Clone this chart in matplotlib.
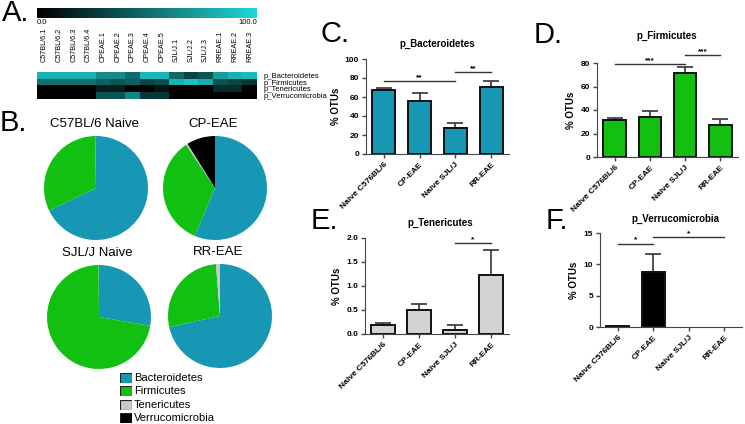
import numpy as np
import matplotlib
matplotlib.use("Agg")
import matplotlib.pyplot as plt
from matplotlib.colors import LinearSegmentedColormap

plt.rcParams["font.family"] = ["Liberation Sans", "DejaVu Sans"]

# grupos e filos
grupos = ["Naive C576BL/6", "CP-EAE", "Naive SJL/J", "RR-EAE"]
titulos_pizza = ["C57BL/6 Naive", "CP-EAE", "SJL/J Naive", "RR-EAE"]
filos = ["Bacteroidetes", "Firmicutes", "Tenericutes", "Verrucomicrobia"]
cores = ["#1797b4", "#11c011", "#c8c8c8", "#000000"]

# medias e erros (% OTUs) por filo, na ordem dos grupos
bacteroidetes = [67, 56, 27.5, 71]
bacteroidetes_sem = [2, 8, 5, 5.5]
firmicutes = [31.5, 34, 71.5, 27]
firmicutes_sem = [1.5, 5.5, 5, 5.5]
tenericutes = [0.19, 0.5, 0.08, 1.23]
tenericutes_sem = [0.04, 0.13, 0.11, 0.52]
verrucomicrobia = [0.1, 8.8, 0.0, 0.0]
verrucomicrobia_sem = [0.0, 2.8, 0.0, 0.0]

# heatmap (amostras x filos)
amostras = ["C57BL/6.1", "C57BL/6.2", "C57BL/6.3", "C57BL/6.4",
            "CPEAE.1", "CPEAE.2", "CPEAE.3", "CPEAE.4", "CPEAE.5",
            "SJL/J.1", "SJL/J.2", "SJL/J.3",
            "RREAE.1", "RREAE.2", "RREAE.3"]
linhas_heat = ["p_Bacteroidetes", "p_Firmicutes", "p_Tenericutes", "p_Verrucomicrobia"]
heat_bact = [82, 82, 82, 82, 64, 64, 50, 84, 84, 48, 32, 40, 72, 82, 86]
heat_firm = [52, 52, 52, 52, 45, 40, 45, 32, 36, 82, 90, 80, 38, 32, 26]
heat_ten = [0, 0, 0, 0, 14, 14, 2, 2, 10, 0, 0, 0, 20, 20, 2]
heat_verr = [0, 0, 0, 0, 38, 38, 62, 26, 26, 0, 0, 0, 0, 0, 0]

# significancia: (grupo a, grupo b, altura, texto)
sig_bact = [(0, 2, 77, "**"), (2, 3, 86, "**")]
sig_firm = [(0, 2, 79, "***"), (2, 3, 87, "***")]
sig_ten = [(2, 3, 1.9, "*")]
sig_verr = [(0, 1, 13.3, "*"), (1, 3, 14.4, "*")]

W, H = 745, 424
fig = plt.figure(figsize=(W / 100, H / 100), dpi=100)


def eixo(x0, y0, x1, y1):
    # posicao em pixels (origem no canto superior esquerdo)
    return fig.add_axes([x0 / W, 1 - y1 / H, (x1 - x0) / W, (y1 - y0) / H])


def texto(x, y, s, **kw):
    return fig.text(x / W, 1 - y / H, s, **kw)


# ---------- A: heatmap ----------
cmap = LinearSegmentedColormap.from_list("pc", ["#000000", "#20d8d8"])
ax_cb = eixo(37, 8, 257, 18)
ax_cb.imshow(np.linspace(0, 100, 256)[None, :], aspect="auto", cmap=cmap)
ax_cb.set_xticks([])
ax_cb.set_yticks([])
for s in ax_cb.spines.values():
    s.set_visible(False)
texto(37, 19, "0.0", fontsize=5.5, va="top", ha="left")
texto(257, 19, "100.0", fontsize=5.5, va="top", ha="right")

ax_h = eixo(37, 72, 257, 99)
matriz = np.array([heat_bact, heat_firm, heat_ten, heat_verr])
ax_h.imshow(matriz, aspect="auto", cmap=cmap, vmin=0, vmax=100, interpolation="nearest")
ax_h.xaxis.tick_top()
ax_h.set_xticks(range(len(amostras)))
ax_h.set_xticklabels(amostras, rotation=90, fontsize=5.2)
ax_h.tick_params(axis="x", length=0, pad=7)
ax_h.yaxis.tick_right()
ax_h.set_yticks(range(len(linhas_heat)))
ax_h.set_yticklabels(linhas_heat, fontsize=5.5)
ax_h.tick_params(axis="y", length=0, pad=5)
for s in ax_h.spines.values():
    s.set_visible(False)

texto(2, 13, "A.", fontsize=21, va="center", ha="left")

# ---------- B: pizzas ----------
valores = np.array([bacteroidetes, firmicutes, tenericutes, verrucomicrobia])
centros = [(96, 188), (215, 188), (99, 317), (220, 316)]
raio = 52
for i, (cx, cy) in enumerate(centros):
    ax_p = eixo(cx - raio, cy - raio, cx + raio, cy + raio)
    ax_p.pie(valores[:, i], colors=cores, startangle=90, counterclock=False,
             radius=1, wedgeprops={"linewidth": 0})
    ax_p.set_xlim(-1, 1)
    ax_p.set_ylim(-1, 1)
    ax_p.set_aspect("auto")
    texto(cx - 2, cy - raio - 12, titulos_pizza[i], fontsize=9.5,
          ha="center", va="center")

texto(0, 123, "B.", fontsize=21, va="center", ha="left")

# legenda
for k, nome in enumerate(filos):
    y = 378 + k * 13.3
    ax_l = eixo(120, y - 5, 132, y + 5)
    ax_l.add_patch(plt.Rectangle((0, 0), 1, 1, facecolor=cores[k], edgecolor="#222222", lw=0.8))
    ax_l.set_xlim(0, 1)
    ax_l.set_ylim(0, 1)
    ax_l.axis("off")
    texto(134, y, nome, fontsize=8, va="center", ha="left")


# ---------- C-F: barras ----------
def barras(pos, medias, erros, cor, ymax, yticks, titulo, titulo_pos, sig, letra, letra_pos):
    ax = eixo(*pos)
    x = np.arange(len(grupos))
    medias = np.array(medias)
    erros = np.array(erros)
    bordas = [1.4 if v > 0 else 0 for v in medias]
    ax.bar(x, medias, width=0.64, color=cor, edgecolor="#111111", linewidth=bordas, zorder=2)
    # so desenha barra de erro quando ha erro
    tem = erros > 0
    ax.errorbar(x[tem], medias[tem], yerr=[np.zeros(tem.sum()), erros[tem]], fmt="none",
                ecolor="#333333", elinewidth=1.2, capsize=6, capthick=1.2, zorder=1)
    ax.set_xlim(-0.5, 3.5)
    ax.set_ylim(0, ymax)
    ax.set_yticks(yticks)
    ax.set_xticks(x)
    ax.set_xticklabels(grupos, rotation=45, ha="right", rotation_mode="anchor",
                       fontsize=6, fontweight="bold")
    for t in ax.get_yticklabels():
        t.set_fontsize(6)
        t.set_fontweight("bold")
    ax.tick_params(length=3, width=1, color="#444444", pad=2)
    ax.spines["top"].set_visible(False)
    ax.spines["right"].set_visible(False)
    ax.spines["left"].set_color("#444444")
    ax.spines["bottom"].set_color("#444444")
    ax.set_ylabel("% OTUs", fontsize=7, fontweight="bold", labelpad=3)
    texto(titulo_pos[0], titulo_pos[1], titulo, fontsize=7, fontweight="bold",
          ha="center", va="center")
    for a, b, h, txt in sig:
        ax.plot([a, b], [h, h], color="#333333", lw=1, clip_on=False)
        ax.text((a + b) / 2, h, txt, ha="center", va="bottom", fontsize=6,
                fontweight="bold")
    texto(letra_pos[0], letra_pos[1], letra, fontsize=21, va="center", ha="left")
    return ax


barras((366, 59, 509, 154), bacteroidetes, bacteroidetes_sem, "#1797b4", 100,
       [0, 20, 40, 60, 80, 100], "p_Bacteroidetes", (437, 44), sig_bact, "C.", (321, 34))
barras((597, 63, 738, 157), firmicutes, firmicutes_sem, "#11c011", 80,
       [0, 20, 40, 60, 80], "p_Firmicutes", (667, 36), sig_firm, "D.", (534, 35))
ax_e = barras((365, 238, 509, 334), tenericutes, tenericutes_sem, "#d3d3d3", 2,
              [0.0, 0.5, 1.0, 1.5, 2.0], "p_Tenericutes", (440, 223), sig_ten, "E.", (311, 221))
barras((600, 233, 742, 327), verrucomicrobia, verrucomicrobia_sem, "#000000", 15,
       [0, 5, 10, 15], "p_Verrucomicrobia", (675, 219), sig_verr, "F.", (546, 221))

# formato dos ticks do painel E
ax_e.yaxis.set_major_formatter(matplotlib.ticker.FormatStrFormatter("%.1f"))

fig.savefig("out.png", dpi=100)
